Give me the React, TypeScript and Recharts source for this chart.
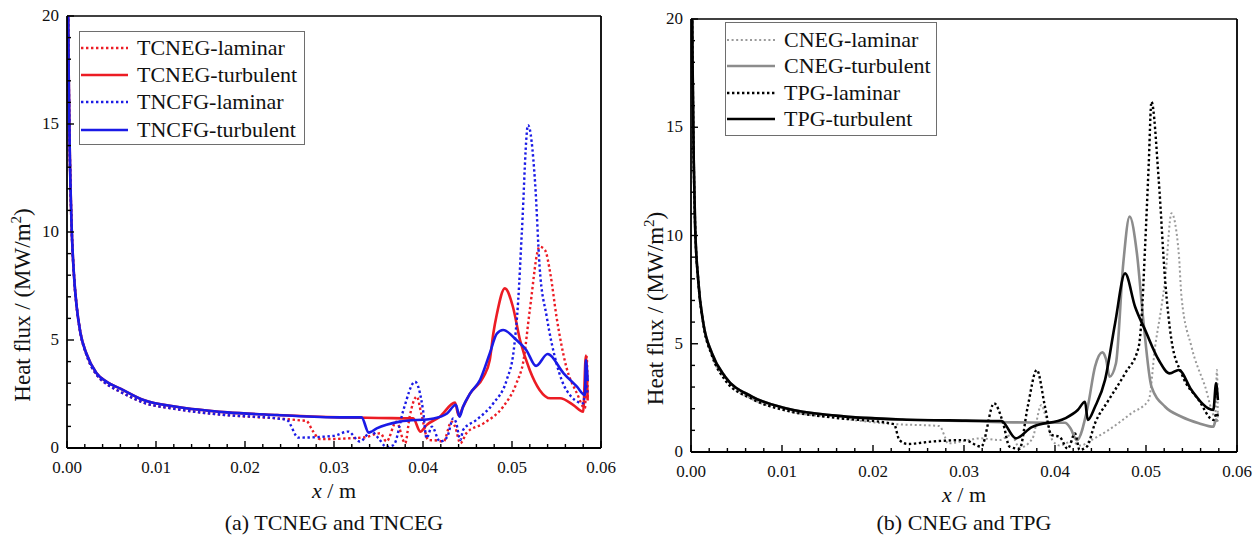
import React from 'react';
import { LineChart, Line, XAxis, YAxis, ReferenceLine, Legend } from 'recharts';

const SERIF = "'Liberation Serif', 'Times New Roman', serif";

// ---------- tick labels ----------
const X_TICK_LABELS = ['0.00', '0.01', '0.02', '0.03', '0.04', '0.05', '0.06'];
const Y_TICK_LABELS = ['0', '5', '10', '15', '20'];
const X_MINOR_STEP = 0.002;
const Y_MINOR_STEP = 1;

// ---------- panel (a) series: [x (m), heat flux (MW/m2)] ----------
const TCNEG_LAMINAR: [number, number][] = [
  [0, 40], [0.0001, 22], [0.0002, 17], [0.0003, 14], [0.0005, 10.5], [0.0008, 7.9], [0.0011, 6.5], [0.0015, 5.35],
  [0.0022, 4.3], [0.0033, 3.4], [0.0045, 2.95], [0.006, 2.6], [0.0086, 2.1], [0.0123, 1.8], [0.018, 1.52],
  [0.0236, 1.37], [0.0262, 1.28], [0.0269, 1.25], [0.0276, 0.8], [0.0284, 0.42], [0.03, 0.42], [0.0318, 0.45],
  [0.0335, 0.5], [0.0352, 0.68], [0.0359, 0.3], [0.037, 1.22], [0.038, 0.22], [0.0385, 1.45], [0.0393, 2.38],
  [0.0398, 1.6], [0.0406, 0.37], [0.0415, 0.35], [0.0423, 0.3], [0.0432, 1.22], [0.0436, 1.0], [0.0442, 0.22],
  [0.0449, 0.7], [0.0468, 1.14], [0.049, 1.91], [0.0505, 3.0], [0.0513, 4.07], [0.052, 6.39], [0.0531, 9.32],
  [0.0537, 9.17], [0.0543, 8.09], [0.055, 6.08], [0.0561, 3.76], [0.0573, 2.53], [0.0582, 1.84], [0.0584, 4.23],
  [0.0585, 2.3],
];
const TCNEG_TURBULENT: [number, number][] = [
  [0, 40], [0.0001, 22], [0.0002, 17], [0.0003, 14], [0.0005, 10.5], [0.0008, 7.9], [0.0011, 6.5], [0.0015, 5.35],
  [0.0022, 4.35], [0.0033, 3.47], [0.0045, 3.05], [0.006, 2.75], [0.0086, 2.22], [0.0123, 1.91], [0.018, 1.65],
  [0.0236, 1.53], [0.0307, 1.42], [0.035, 1.39], [0.0389, 1.37], [0.0397, 0.76], [0.0404, 1.06], [0.0419, 1.45],
  [0.0436, 2.1], [0.044, 1.5], [0.0445, 1.9], [0.0453, 2.53], [0.0468, 3.3], [0.0475, 4.07], [0.0479, 5.3],
  [0.0483, 6.2], [0.0492, 7.39], [0.0501, 6.54], [0.0509, 5.0], [0.052, 3.6], [0.0531, 2.69], [0.0543, 2.3],
  [0.0554, 2.3], [0.0569, 1.99], [0.058, 1.68], [0.0583, 4.28], [0.0585, 2.2],
];
const TNCFG_LAMINAR: [number, number][] = [
  [0, 40], [0.0001, 22], [0.0002, 17], [0.0003, 14], [0.0005, 10.5], [0.0008, 7.9], [0.0011, 6.5], [0.0015, 5.35],
  [0.0022, 4.3], [0.0033, 3.4], [0.0045, 2.95], [0.006, 2.6], [0.0086, 2.1], [0.0123, 1.8], [0.018, 1.52],
  [0.0236, 1.37], [0.0247, 1.3], [0.026, 0.48], [0.0299, 0.56], [0.0316, 0.76], [0.0329, 0.3], [0.0342, 0.76],
  [0.035, 0.45], [0.0359, 0.05], [0.0367, 0.14], [0.0378, 1.76], [0.0391, 3.07], [0.04, 1.76], [0.0404, 0.45],
  [0.041, 0.99], [0.0419, 0.3], [0.0427, 0.5], [0.0434, 1.37], [0.0437, 1.2], [0.0442, 0.37], [0.0445, 0.83],
  [0.046, 1.3], [0.0479, 2.07], [0.0494, 3.15], [0.0502, 4.54], [0.0507, 6.85], [0.0511, 9.94], [0.0518, 14.95],
  [0.0526, 12.25], [0.0531, 8.4], [0.0539, 6.08], [0.055, 3.92], [0.0561, 2.69], [0.058, 2.07], [0.0583, 2.9],
  [0.0585, 2.5],
];
const TNCFG_TURBULENT: [number, number][] = [
  [0, 40], [0.0001, 22], [0.0002, 17], [0.0003, 14], [0.0005, 10.5], [0.0008, 7.9], [0.0011, 6.5], [0.0015, 5.35],
  [0.0022, 4.35], [0.0033, 3.47], [0.0045, 3.05], [0.006, 2.75], [0.0086, 2.22], [0.0123, 1.91], [0.018, 1.65],
  [0.0236, 1.53], [0.0307, 1.42], [0.0331, 1.42], [0.0339, 0.71], [0.0348, 0.91], [0.0374, 1.22], [0.0412, 1.37],
  [0.0427, 1.6], [0.0437, 2.0], [0.0441, 1.45], [0.0445, 1.91], [0.0453, 2.53], [0.0464, 3.15], [0.0475, 4.38],
  [0.0483, 5.3], [0.049, 5.46], [0.0505, 5.0], [0.0516, 4.54], [0.0527, 3.8], [0.054, 4.35], [0.0558, 3.46],
  [0.0573, 2.84], [0.0582, 2.45], [0.0583, 4.07], [0.0585, 3.1],
];

// ---------- panel (b) series ----------
const CNEG_LAMINAR: [number, number][] = [
  [0, 40], [0.0001, 22], [0.0002, 17], [0.0003, 13.5], [0.00045, 10.5], [0.0008, 7.9], [0.00136, 5.9],
  [0.0023, 4.45], [0.0037, 3.35], [0.0067, 2.45], [0.0104, 1.92], [0.0159, 1.58], [0.0223, 1.29], [0.0273, 1.2],
  [0.0279, 0.7], [0.0282, 0.4], [0.0319, 0.63], [0.0339, 0.55], [0.0352, 0.79], [0.0361, 0.2], [0.0375, 0.6],
  [0.0385, 2.17], [0.039, 1.6], [0.0397, 0.55], [0.0405, 0.3], [0.0418, 0.48], [0.0428, 0.3], [0.044, 0.55],
  [0.0459, 1.02], [0.0484, 1.79], [0.0503, 2.4], [0.051, 4.86], [0.0517, 6.71], [0.0521, 7.94], [0.0528, 11.03],
  [0.0536, 9.18], [0.0539, 7.17], [0.055, 4.86], [0.0565, 3.02], [0.0576, 1.63], [0.0578, 3.79], [0.0579, 1.5],
];
const CNEG_TURBULENT: [number, number][] = [
  [0, 40], [0.0001, 22], [0.0002, 17], [0.0003, 13.5], [0.00045, 10.5], [0.0008, 7.9], [0.00136, 5.94],
  [0.0023, 4.56], [0.00375, 3.48], [0.0067, 2.56], [0.0104, 2.02], [0.0159, 1.68], [0.0232, 1.5], [0.0302, 1.43],
  [0.034, 1.38], [0.0411, 1.35], [0.0417, 1.1], [0.0424, 0.55], [0.0436, 2.09], [0.0444, 3.94], [0.0452, 4.6],
  [0.0456, 4.3], [0.046, 3.48], [0.0467, 4.1], [0.0475, 8.7], [0.0482, 10.87], [0.049, 9.18], [0.0497, 6.1],
  [0.0506, 3.02], [0.0521, 2.09], [0.0539, 1.63], [0.0558, 1.33], [0.0574, 1.17], [0.0577, 1.5], [0.0579, 1.4],
];
const TPG_LAMINAR: [number, number][] = [
  [0, 40], [0.0001, 22], [0.0002, 17], [0.0003, 13.5], [0.00045, 10.5], [0.0008, 7.9], [0.00136, 5.9],
  [0.0023, 4.45], [0.0037, 3.35], [0.0067, 2.45], [0.0104, 1.92], [0.0159, 1.58], [0.0223, 1.29], [0.0229, 0.55],
  [0.0238, 0.37], [0.0264, 0.48], [0.03, 0.55], [0.0319, 0.25], [0.0333, 2.25], [0.0343, 1.33], [0.035, 0.25],
  [0.0361, 0.15], [0.037, 2.09], [0.038, 3.79], [0.0389, 2.09], [0.0396, 0.79], [0.0405, 0.7], [0.0414, 0.15],
  [0.0422, 0.86], [0.0427, 0.1], [0.0435, 0.25], [0.0444, 1.33], [0.0459, 2.4], [0.0477, 3.63], [0.0492, 4.86],
  [0.0495, 6.1], [0.0499, 9.48], [0.0503, 13.3], [0.0506, 16.18], [0.0514, 12.56], [0.0521, 7.94], [0.0528, 5.17],
  [0.0539, 3.63], [0.0558, 2.4], [0.0574, 1.48], [0.0578, 1.8], [0.0579, 1.6],
];
const TPG_TURBULENT: [number, number][] = [
  [0, 40], [0.0001, 22], [0.0002, 17], [0.0003, 13.5], [0.00045, 10.5], [0.0008, 7.9], [0.00136, 5.94],
  [0.0023, 4.56], [0.00375, 3.48], [0.0067, 2.56], [0.0104, 2.02], [0.0159, 1.68], [0.0232, 1.5], [0.0302, 1.45],
  [0.0341, 1.43], [0.0357, 0.63], [0.0374, 1.14], [0.0411, 1.55], [0.0425, 1.94], [0.0433, 2.32], [0.0436, 1.48],
  [0.0444, 2.09], [0.0455, 3.33], [0.0466, 5.94], [0.0477, 8.25], [0.0488, 6.71], [0.0499, 5.64], [0.0514, 4.25],
  [0.0526, 3.63], [0.0536, 3.79], [0.055, 2.86], [0.0574, 1.94], [0.0577, 3.17], [0.0579, 2.4],
];

type Series = { name: string; data: [number, number][]; color: string; width: number; dash?: string };

const SERIES_A: Series[] = [
  { name: 'TCNEG-laminar', data: TCNEG_LAMINAR, color: '#ec1c24', width: 2.4, dash: '2.4 2.6' },
  { name: 'TCNEG-turbulent', data: TCNEG_TURBULENT, color: '#ec1c24', width: 2.6 },
  { name: 'TNCFG-laminar', data: TNCFG_LAMINAR, color: '#1a1ae6', width: 2.4, dash: '2.4 2.6' },
  { name: 'TNCFG-turbulent', data: TNCFG_TURBULENT, color: '#1a1ae6', width: 2.6 },
];
const SERIES_B: Series[] = [
  { name: 'CNEG-laminar', data: CNEG_LAMINAR, color: '#9a9a9a', width: 2, dash: '2 2.6' },
  { name: 'CNEG-turbulent', data: CNEG_TURBULENT, color: '#8c8c8c', width: 2.6 },
  { name: 'TPG-laminar', data: TPG_LAMINAR, color: '#000000', width: 2.4, dash: '2.4 2.6' },
  { name: 'TPG-turbulent', data: TPG_TURBULENT, color: '#000000', width: 2.6 },
];

const X_TICKS = Array.from({ length: Math.round(0.06 / X_MINOR_STEP) + 1 }, (_, i) => +(i * X_MINOR_STEP).toFixed(4));
const Y_TICKS = Array.from({ length: Math.round(20 / Y_MINOR_STEP) + 1 }, (_, i) => i * Y_MINOR_STEP);

const toRows = (d: [number, number][]) => d.map(([x, y]) => ({ x, y }));

const XTick = (props: any) => {
  const { x, y, payload } = props;
  const label = X_TICK_LABELS.find((l) => Math.abs(parseFloat(l) - payload.value) < 1e-9);
  const len = label ? 7 : 4;
  return (
    <g>
      <line x1={x} x2={x} y1={y} y2={y - len} stroke="#000" strokeWidth={1.4} />
      {label && (
        <text x={x} y={y + 25} textAnchor="middle" fontFamily={SERIF} fontSize={17} fill="#111">
          {label}
        </text>
      )}
    </g>
  );
};

const YTick = (props: any) => {
  const { x, y, payload } = props;
  const label = Y_TICK_LABELS.find((l) => Math.abs(parseFloat(l) - payload.value) < 1e-9);
  const len = label ? 7 : 4;
  return (
    <g>
      <line x1={x} x2={x + len} y1={y} y2={y} stroke="#000" strokeWidth={1.4} />
      {label && (
        <text x={x - 8} y={y} dy="0.3em" textAnchor="end" fontFamily={SERIF} fontSize={17} fill="#111">
          {label}
        </text>
      )}
    </g>
  );
};

type LegendBox = { left: number; top: number; width: number; height: number; padTop: number; rowH: number; sampleLeft: number; sampleW: number; gap: number };

const makeLegend = (series: Series[], box: LegendBox) => () => (
  <div
    style={{
      boxSizing: 'border-box', width: box.width, height: box.height, border: '1px solid #6e6e6e',
      background: '#fff', paddingTop: box.padTop, fontFamily: SERIF, fontSize: 22, color: '#111',
    }}
  >
    {series.map((s) => (
      <div key={s.name} style={{ display: 'flex', alignItems: 'center', height: box.rowH, whiteSpace: 'nowrap' }}>
        <svg width={box.sampleW} height={8} style={{ marginLeft: box.sampleLeft, flex: 'none' }}>
          <line x1={0} x2={box.sampleW} y1={4} y2={4} stroke={s.color} strokeWidth={s.width} strokeDasharray={s.dash} />
        </svg>
        <span style={{ marginLeft: box.gap, lineHeight: 1 }}>{s.name}</span>
      </div>
    ))}
  </div>
);

type PanelProps = {
  left: number; width: number; top: number; right: number; bottom: number; yAxisWidth: number;
  series: Series[]; legend: LegendBox; caption: string; yLabelX: number; yLabelShift: number;
};

const CHART_H = 539;
const X_AXIS_H = 30;

function Panel({ left, width, top, right, bottom, yAxisWidth, series, legend, caption, yLabelX, yLabelShift }: PanelProps) {
  const plotLeft = yAxisWidth;
  const plotW = width - yAxisWidth - right;
  return (
    <div style={{ position: 'absolute', left, top: 0, width, height: CHART_H }}>
      <LineChart width={width} height={CHART_H} margin={{ top, right, bottom, left: 0 }}>
        <XAxis
          dataKey="x"
          type="number"
          domain={[0, 0.06]}
          ticks={X_TICKS}
          interval={0}
          tick={<XTick />}
          tickLine={false}
          tickSize={0}
          tickMargin={0}
          height={X_AXIS_H}
          axisLine={{ stroke: '#000', strokeWidth: 1.8 }}
          allowDataOverflow
          label={{
            content: (p: any) => {
              const vb = p.viewBox || {};
              return (
                <text x={vb.x + vb.width / 2} y={vb.y + 50} textAnchor="middle" fontFamily={SERIF} fontSize={22} fill="#111">
                  <tspan fontStyle="italic">x</tspan> / m
                </text>
              );
            },
          }}
        />
        <YAxis
          type="number"
          domain={[0, 20]}
          ticks={Y_TICKS}
          interval={0}
          tick={<YTick />}
          tickLine={false}
          tickSize={0}
          tickMargin={0}
          width={yAxisWidth}
          axisLine={{ stroke: '#000', strokeWidth: 1.8 }}
          allowDataOverflow
          label={{
            content: (p: any) => {
              const vb = p.viewBox || {};
              const cx = vb.x + yLabelX;
              const cy = vb.y + vb.height / 2 + yLabelShift;
              return (
                <text
                  x={cx} y={cy} transform={`rotate(-90, ${cx}, ${cy})`} textAnchor="middle" dy="0.35em"
                  fontFamily={SERIF} fontSize={23} fill="#111"
                >
                  Heat flux / (MW/m<tspan dy={-9} fontSize={15}>2</tspan><tspan dy={9}>)</tspan>
                </text>
              );
            },
          }}
        />
        <ReferenceLine y={20} stroke="#000" strokeWidth={1.6} />
        <ReferenceLine x={0.06} stroke="#000" strokeWidth={1.8} />
        {series.map((s) => (
          <Line
            key={s.name}
            name={s.name}
            data={toRows(s.data)}
            dataKey="y"
            type="monotone"
            stroke={s.color}
            strokeWidth={s.width}
            strokeDasharray={s.dash}
            dot={false}
            activeDot={false}
            isAnimationActive={false}
          />
        ))}
        <Legend
          layout="vertical"
          align="center"
          verticalAlign="middle"
          content={makeLegend(series, legend)}
          wrapperStyle={{ left: legend.left, top: legend.top, width: legend.width, height: legend.height }}
        />
      </LineChart>
      <div
        style={{
          position: 'absolute', left: plotLeft, width: plotW, top: 510, textAlign: 'center',
          fontFamily: SERIF, fontSize: 22, color: '#111', whiteSpace: 'nowrap',
        }}
      >
        {caption}
      </div>
    </div>
  );
}

export default function App() {
  return (
    <div style={{ position: 'fixed', left: 0, top: 0, width: 1255, height: 539, background: '#fff', overflow: 'hidden' }}>
      <Panel
        left={0}
        width={630}
        top={16}
        right={29}
        bottom={61}
        yAxisWidth={67}
        series={SERIES_A}
        legend={{ left: 79, top: 31, width: 226, height: 114, padTop: 2, rowH: 27.3, sampleLeft: 1, sampleW: 47, gap: 9 }}
        caption="(a) TCNEG and TNCEG"
        yLabelX={22}
        yLabelShift={73}
      />
      <Panel
        left={630}
        width={625}
        top={19}
        right={18}
        bottom={57}
        yAxisWidth={61}
        series={SERIES_B}
        legend={{ left: 95, top: 22, width: 212, height: 114, padTop: 4, rowH: 26.3, sampleLeft: 1, sampleW: 48, gap: 9 }}
        caption="(b) CNEG and TPG"
        yLabelX={25}
        yLabelShift={73}
      />
    </div>
  );
}
